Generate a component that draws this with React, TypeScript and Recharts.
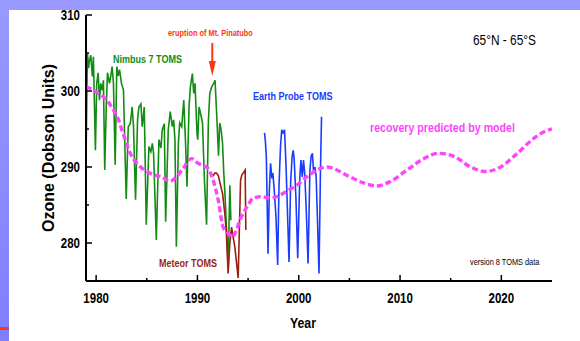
import { LineChart, Line, XAxis, YAxis } from "recharts";

// Nimbus 7 TOMS (year, DU)
const nimbusYears = [
  1979.01, 1979.14, 1979.25, 1979.34, 1979.47, 1979.63, 1979.73, 1979.93,
  1980.06, 1980.2, 1980.33, 1980.46, 1980.62, 1980.72, 1980.85,
  1981.0, 1981.12, 1981.32, 1981.45, 1981.58, 1981.71, 1981.88,
  1982.04, 1982.18, 1982.31, 1982.5, 1982.7, 1982.97,
  1983.17, 1983.37, 1983.56, 1983.69, 1983.89,
  1984.09, 1984.22, 1984.42, 1984.55, 1984.75, 1984.95,
  1985.21, 1985.4, 1985.55, 1985.67, 1985.94,
  1986.2, 1986.4, 1986.53, 1986.73, 1986.86,
  1987.12, 1987.32, 1987.52, 1987.65, 1987.78, 1987.92,
  1988.12, 1988.25, 1988.45, 1988.65, 1988.84, 1988.97,
  1989.17, 1989.31, 1989.5, 1989.63, 1989.76, 1989.96,
  1990.03, 1990.16, 1990.3, 1990.5, 1990.69, 1990.9,
  1991.08, 1991.22, 1991.42, 1991.61, 1991.74, 1991.94,
  1992.08, 1992.2, 1992.34, 1992.48, 1992.6, 1992.73, 1992.86,
  1993.0, 1993.1, 1993.2, 1993.3,
];
const nimbusO3 = [
  291.4, 305.0, 303.0, 304.0, 304.7, 301.9, 304.5, 292.2,
  301.0, 302.4, 298.8, 301.0, 300.1, 301.4, 289.6,
  298.0, 302.4, 301.0, 302.0, 303.2, 301.0, 290.3,
  303.2, 302.0, 302.8, 301.0, 300.1, 285.8,
  295.3, 295.7, 297.9, 295.3, 285.7,
  296.2, 297.9, 298.3, 295.3, 297.9, 282.4,
  292.7, 292.0, 293.1, 291.8, 280.4,
  293.6, 292.5, 294.9, 295.7, 282.8,
  294.9, 297.3, 295.3, 296.2, 293.6, 279.5,
  293.2, 295.8, 295.3, 298.8, 292.7, 287.4,
  297.9, 300.6, 302.3, 299.7, 301.0, 294.4,
  293.6, 297.9, 297.1, 295.8, 288.3, 282.4,
  296.0, 299.7, 300.6, 301.0, 301.4, 295.8,
  291.5, 295.8, 294.9, 293.1, 289.2, 286.1, 282.1,
  278.2, 281.3, 287.6, 283.0,
];

// Meteor 3 TOMS
const meteorYears = [
  1991.55, 1991.7, 1991.88, 1992.05, 1992.3, 1992.48, 1992.7, 1992.85,
  1993.03, 1993.2, 1993.37, 1993.5, 1993.69, 1993.85, 1994.02,
  1994.26, 1994.4, 1994.52, 1994.71, 1994.78,
];
const meteorO3 = [
  288.8, 289.2, 289.2, 288.9, 287.5, 286.5, 283.9, 281.5,
  276.0, 280.0, 282.1, 281.0, 279.5, 277.5, 275.4,
  288.3, 289.0, 289.2, 289.6, 281.7,
];

// Earth Probe TOMS
const probeYears = [
  1996.62, 1996.7, 1996.8, 1996.97, 1997.1, 1997.22, 1997.35, 1997.45, 1997.58, 1997.75,
  1997.92, 1998.05, 1998.2, 1998.32, 1998.45, 1998.6, 1998.75,
  1999.04, 1999.2, 1999.35, 1999.45, 1999.55, 1999.72,
  1999.9, 2000.1, 2000.22, 2000.35, 2000.47, 2000.6, 2000.75,
  2000.92, 2001.1, 2001.22, 2001.35, 2001.47, 2001.6, 2001.72, 2001.85,
  2002.0, 2002.15, 2002.25,
];
const probeO3 = [
  294.5, 293.5, 291.4, 278.6, 287.0, 290.5, 288.5, 289.2, 287.0, 283.5,
  277.1, 287.5, 292.7, 294.9, 294.5, 294.9, 290.0,
  277.5, 288.0, 291.4, 292.2, 291.0, 286.0,
  278.0, 288.5, 290.9, 288.7, 290.9, 289.0, 284.0,
  277.3, 289.5, 291.4, 291.8, 289.2, 290.0, 288.7, 283.0,
  276.0, 290.0, 296.6,
];

// model
const modelYears = [
  1979.0, 1979.73, 1980.4, 1981.05, 1981.71, 1982.21, 1982.53, 1982.87, 1983.37,
  1984.02, 1985.01, 1985.84, 1986.5, 1987.26, 1987.92, 1988.57, 1989.41, 1990.06,
  1991.05, 1991.54, 1992.04, 1992.53, 1993.03, 1993.37, 1993.86, 1994.19, 1994.51,
  1995.01, 1995.5, 1996.34, 1997.16, 1997.82, 1998.81, 1999.8, 2000.79, 2001.78,
  2002.77, 2003.43, 2004.75, 2006.4, 2007.72, 2009.04, 2010.69, 2012.34, 2013.82,
  2015.31, 2016.96, 2018.45, 2019.93, 2021.58, 2023.23, 2024.71, 2025.0,
];
const modelO3 = [
  300.6, 300.1, 299.5, 298.8, 297.5, 296.2, 294.9, 293.6, 291.8,
  290.5, 289.4, 288.9, 288.7, 288.1, 288.7, 289.8, 291.1, 290.5,
  289.8, 288.3, 285.7, 282.1, 281.3, 280.8, 281.7, 283.0, 283.9,
  285.0, 285.9, 286.1, 285.9, 286.1, 286.8, 287.6, 288.7, 289.6,
  290.0, 289.8, 288.9, 287.9, 287.5, 288.1, 289.6, 291.1, 291.8,
  291.4, 290.0, 289.4, 290.0, 291.8, 293.8, 294.9, 295.0,
];

const xTicks = [1980, 1985, 1990, 1995, 2000, 2005, 2010, 2015, 2020];
const yTicks = [275, 280, 285, 290, 295, 300, 305, 310];

const toRows = (t: number[], v: number[]) => t.map((year, i) => ({ year, o3: v[i] }));

const nimbus = toRows(nimbusYears, nimbusO3);
const meteor = toRows(meteorYears, meteorO3);
const probe = toRows(probeYears, probeO3);
const model = toRows(modelYears, modelO3);

const SANS = "'Liberation Sans', Arial, sans-serif";

// narrow-looking text: regular Liberation Sans squeezed horizontally
const NText = ({ x, y, size, bold = false, fill = "#000", anchor = "start", children }: any) => (
  <text
    transform={`translate(${x},${y}) scale(0.82,1)`}
    textAnchor={anchor}
    fontFamily={SANS}
    fontWeight={bold ? "bold" : "normal"}
    fontSize={size}
    fill={fill}
  >
    {children}
  </text>
);

const BottomTick = (p: any) => {
  const { x, y, payload } = p;
  const major = payload.value % 10 === 0;
  return (
    <g>
      <line x1={x} x2={x} y1={y} y2={y - (major ? 6 : 3)} stroke="#000" strokeWidth={1.5} />
      {major && <NText x={x} y={y + 22} anchor="middle" size={14} bold>{payload.value}</NText>}
    </g>
  );
};

const TopTick = (p: any) => {
  const { x, y, payload } = p;
  const major = payload.value % 10 === 0;
  return <line x1={x} x2={x} y1={y} y2={y + (major ? 6 : 3)} stroke="#000" strokeWidth={1.5} />;
};

const LeftTick = (p: any) => {
  const { x, y, payload } = p;
  const major = payload.value % 10 === 0;
  if (payload.value === 275) return <g />;
  return (
    <g>
      <line x1={x} x2={x + (major ? 6 : 3)} y1={y} y2={y} stroke="#000" strokeWidth={1.5} />
      {major && <NText x={x - 6} y={y + 5} anchor="end" size={14} bold>{payload.value}</NText>}
    </g>
  );
};

const RightTick = (p: any) => {
  const { x, y, payload } = p;
  if (payload.value === 275 || payload.value === 310) return <g />;
  return <line x1={x} x2={x - 4} y1={y} y2={y} stroke="#000" strokeWidth={1.5} />;
};

const axisLine = { stroke: "#000", strokeWidth: 2 };

export default function App() {
  return (
    <div style={{ position: "absolute", left: 0, top: 0, width: 580, height: 341, background: "#fff", overflow: "hidden" }}>
      <div style={{ position: "absolute", left: 0, top: 0, width: 580, height: 10, background: "#9999ff" }} />
      <div
        style={{
          position: "absolute", left: 0, top: 0, width: 9, height: 341,
          background: "linear-gradient(#9999ff, #7f7fff)",
        }}
      />
      <div style={{ position: "absolute", left: 0, top: 327, width: 9, height: 3, background: "#ff3322" }} />

      <div style={{ position: "absolute", left: 0, top: 0 }}>
        <LineChart width={580} height={341} margin={{ top: 15, right: 28, bottom: 0, left: 0 }}>
          <XAxis
            xAxisId="b" type="number" dataKey="year" domain={[1979, 2025]} ticks={xTicks}
            allowDataOverflow height={60} axisLine={axisLine} tickLine={false}
            tickSize={0} tickMargin={0} tick={<BottomTick />} interval={0}
          />
          <XAxis
            xAxisId="t" orientation="top" type="number" dataKey="year" domain={[1979, 2025]} ticks={xTicks}
            allowDataOverflow height={0} axisLine={axisLine} tickLine={false}
            tickSize={0} tickMargin={0} tick={<TopTick />} interval={0}
          />
          <YAxis
            yAxisId="l" type="number" domain={[275, 310]} ticks={yTicks} allowDataOverflow width={86}
            axisLine={axisLine} tickLine={false} tickSize={0} tickMargin={0} tick={<LeftTick />} interval={0}
          />
          <YAxis
            yAxisId="r" orientation="right" type="number" domain={[275, 310]} ticks={yTicks} allowDataOverflow
            width={0} axisLine={axisLine} tickLine={false} tickSize={0} tickMargin={0} tick={<RightTick />} interval={0}
          />
          <Line xAxisId="b" yAxisId="l" data={nimbus} dataKey="o3" type="linear" stroke="#128c12" strokeWidth={1.6} dot={false} isAnimationActive={false} />
          <Line xAxisId="b" yAxisId="l" data={meteor} dataKey="o3" type="linear" stroke="#9a1f10" strokeWidth={1.6} dot={false} isAnimationActive={false} />
          <Line xAxisId="b" yAxisId="l" data={probe} dataKey="o3" type="linear" stroke="#1a3cff" strokeWidth={1.6} dot={false} isAnimationActive={false} />
          <Line xAxisId="b" yAxisId="l" data={model} dataKey="o3" type="monotone" stroke="#ff44ff" strokeWidth={3.4} strokeDasharray="6 3" dot={false} isAnimationActive={false} />
        </LineChart>
      </div>

      <svg width={580} height={341} style={{ position: "absolute", left: 0, top: 0, pointerEvents: "none" }}>
        <NText x={168} y={36} size={9} bold fill="#ff3311">eruption of Mt. Pinatubo</NText>
        <line x1={212.3} x2={212.3} y1={43} y2={63} stroke="#ff3311" strokeWidth={2} />
        <polygon points="208.8,61 215.8,61 212.3,76" fill="#ff3311" />
        <NText x={113} y={63} size={11} bold fill="#128c12">Nimbus 7 TOMS</NText>
        <NText x={253} y={100} size={11} bold fill="#1a3cff">Earth Probe TOMS</NText>
        <NText x={159} y={267} size={11} bold fill="#9a1f10">Meteor TOMS</NText>
        <NText x={370} y={131.5} size={13} bold fill="#ff44ff">recovery predicted by model</NText>
        <NText x={473} y={45} size={14.5}>65°N - 65°S</NText>
        <NText x={470} y={264.5} size={9}>version 8 TOMS data</NText>
        <NText x={303} y={327.5} anchor="middle" size={15} bold>Year</NText>
        <text transform="translate(53.5,148) rotate(-90)" textAnchor="middle" fontFamily={SANS} fontWeight="bold" fontSize={16} fill="#000">
          Ozone (Dobson Units)
        </text>
      </svg>
    </div>
  );
}
